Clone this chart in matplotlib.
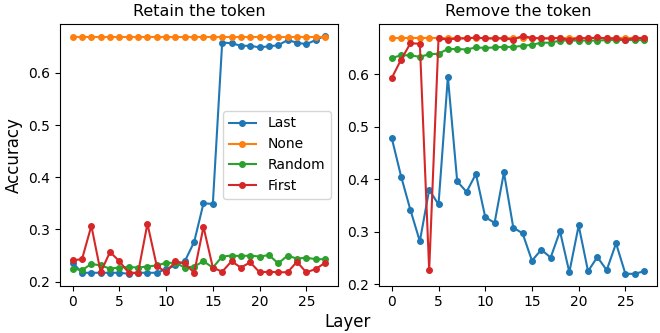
import numpy as np
import matplotlib
matplotlib.use("Agg")
import matplotlib.pyplot as plt

layers = np.arange(28)
labels = ["Last", "None", "Random", "First"]
colors = ["tab:blue", "tab:orange", "tab:green", "tab:red"]

# accuracy when the token is kept
retain_last = [0.236, 0.217, 0.217, 0.217, 0.217, 0.217, 0.215, 0.217, 0.217, 0.217,
               0.224, 0.231, 0.239, 0.276, 0.350, 0.349, 0.658, 0.657, 0.652, 0.652,
               0.649, 0.651, 0.653, 0.663, 0.658, 0.655, 0.663, 0.671]
retain_none = [0.668] * 28
retain_random = [0.225, 0.222, 0.234, 0.231, 0.225, 0.227, 0.228, 0.227, 0.229, 0.231,
                 0.236, 0.236, 0.227, 0.229, 0.239, 0.227, 0.248, 0.250, 0.249, 0.250,
                 0.248, 0.251, 0.235, 0.250, 0.244, 0.246, 0.243, 0.243]
retain_first = [0.241, 0.243, 0.307, 0.218, 0.257, 0.239, 0.217, 0.217, 0.311, 0.230,
                0.218, 0.239, 0.235, 0.217, 0.305, 0.227, 0.219, 0.239, 0.227, 0.237,
                0.218, 0.219, 0.218, 0.218, 0.238, 0.218, 0.224, 0.236]

# accuracy when the token is dropped
remove_last = [0.478, 0.405, 0.341, 0.282, 0.380, 0.352, 0.595, 0.396, 0.376, 0.410,
               0.328, 0.317, 0.413, 0.308, 0.297, 0.245, 0.266, 0.251, 0.301, 0.223,
               0.312, 0.225, 0.252, 0.227, 0.278, 0.220, 0.220, 0.225]
remove_none = [0.668] * 28
remove_random = [0.631, 0.636, 0.636, 0.633, 0.638, 0.639, 0.648, 0.648, 0.647, 0.651,
                 0.650, 0.651, 0.652, 0.652, 0.654, 0.656, 0.660, 0.660, 0.664, 0.664,
                 0.664, 0.664, 0.664, 0.665, 0.665, 0.665, 0.665, 0.665]
remove_first = [0.593, 0.628, 0.659, 0.658, 0.227, 0.668, 0.666, 0.668, 0.668, 0.670,
                0.668, 0.668, 0.668, 0.666, 0.673, 0.669, 0.668, 0.668, 0.669, 0.665,
                0.669, 0.668, 0.670, 0.668, 0.668, 0.665, 0.669, 0.669]

retain = [retain_last, retain_none, retain_random, retain_first]
remove = [remove_last, remove_none, remove_random, remove_first]

fig, axes = plt.subplots(1, 2, figsize=(6.6, 3.33), dpi=100)
fig.subplots_adjust(left=0.091, right=0.995, bottom=0.142, top=0.928, wspace=0.15)

for ax, series, title in zip(axes, [retain, remove], ["Retain the token", "Remove the token"]):
    for vals, lab, col in zip(series, labels, colors):
        ax.plot(layers, vals, marker="o", markersize=4, color=col, label=lab)
    ax.set_title(title, fontsize=11.5)
    ax.set_xticks([0, 5, 10, 15, 20, 25])
    ax.set_yticks([0.2, 0.3, 0.4, 0.5, 0.6])
    ax.tick_params(labelsize=10)

axes[0].set_ylabel("Accuracy", fontsize=12)
axes[0].legend(loc="center right", fontsize=10)
fig.supxlabel("Layer", fontsize=12, x=0.526, y=0.005)

fig.savefig("out.png")
